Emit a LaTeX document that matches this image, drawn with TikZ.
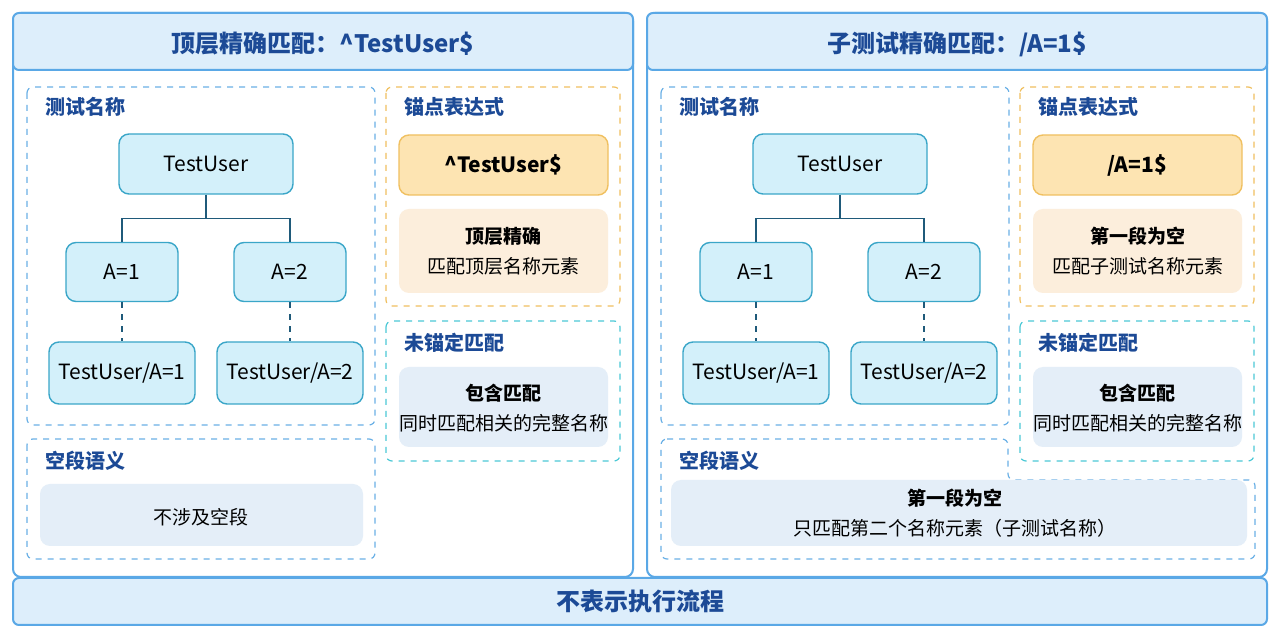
\documentclass[tikz,border=0pt]{standalone}
\usepackage{fontspec}
\setmainfont{Noto Sans CJK SC}
\begin{document}
\begin{tikzpicture}[x=0.5pt,y=-0.5pt,
 panel/.style={draw=pb,line width=1pt,rounded corners=4pt,fill=white},
 hdr/.style={draw=pb,line width=1pt,rounded corners=3pt,fill=hf},
 title/.style={font=\bfseries\fontsize{12}{14}\selectfont,text=tc},
 lab/.style={font=\bfseries\fontsize{10}{12}\selectfont,text=tc,anchor=west},
 dbox/.style={draw=db,dashed,line width=0.6pt,rounded corners=3pt},
 tn/.style={draw=nb,fill=nf,line width=0.7pt,rounded corners=5pt,font=\fontsize{10.5}{12}\selectfont},
 ib/.style={fill=ifl,rounded corners=5pt},
 bt/.style={font=\bfseries\fontsize{9.5}{11}\selectfont},
 nt/.style={font=\fontsize{9.5}{11}\selectfont},
 ln/.style={draw=lc,line width=0.7pt}]
\definecolor{pb}{HTML}{5AA8E6}\definecolor{hf}{HTML}{DDEEFB}\definecolor{tc}{HTML}{1C4A96}
\definecolor{db}{HTML}{6AB0E6}\definecolor{nb}{HTML}{3AA6C8}\definecolor{nf}{HTML}{D3F0FA}
\definecolor{ifl}{HTML}{E4EEF8}\definecolor{ob}{HTML}{F0C060}\definecolor{of}{HTML}{FDE4B2}
\definecolor{ofl}{HTML}{FCEEDC}\definecolor{teal}{HTML}{4CC9D6}\definecolor{lc}{HTML}{1F5A7A}
\useasboundingbox (0,0) rectangle (1280,640);
\fill[white] (0,0) rectangle (1280,640);
% bottom bar
\draw[hdr] (13,578) rectangle (1267,625);
\node[title] (bot) at (640,601) {不表示执行流程};
\foreach \ox/\tt/\anc/\sa/\sb/\emp in {0/{顶层精确匹配：\^{}TestUser\$}/{\^{}TestUser\$}/顶层精确/匹配顶层名称元素/0, 634/{子测试精确匹配：/A=1\$}/{/A=1\$}/第一段为空/匹配子测试名称元素/1}{
\begin{scope}[xshift=\ox*0.5pt]
\draw[panel] (13,13) rectangle (633,577);
\draw[hdr] (13,13) rectangle (633,70);
\node[title] at (323,44) {\tt};
% test name box
\draw[dbox] (27,87) rectangle (375,425);
\node[lab] at (38,107) {测试名称};
\node[tn,minimum width=87pt,minimum height=30pt] (r) at (206,164) {TestUser};
\node[tn,minimum width=56pt,minimum height=29.5pt] (a1) at (122,272) {A=1};
\node[tn,minimum width=56pt,minimum height=29.5pt] (a2) at (290,272) {A=2};
\node[tn,minimum width=73pt,minimum height=31pt] (b1) at (122,373) {TestUser/A=1};
\node[tn,minimum width=73pt,minimum height=31pt] (b2) at (290,373) {TestUser/A=2};
\draw[ln] (r.south) -- ++(0,24) -| (a1.north);
\draw[ln] (r.south) ++(0,24) -| (a2.north);
\draw[ln,dashed] (a1) -- (b1);
\draw[ln,dashed] (a2) -- (b2);
% anchor box
\draw[dbox,draw=ob] (386,87) rectangle (620,306);
\node[lab] at (397,107) {锚点表达式};
\node[draw=ob,fill=of,line width=0.7pt,rounded corners=5pt,minimum width=104.5pt,minimum height=30pt,font=\bfseries\fontsize{10.5}{12}\selectfont] (an) at (503.5,165) {\anc};
\fill[ofl,rounded corners=5pt] (399,209) rectangle (608,293);
\node[bt] (as) at (503.5,236) {\sa};
\node[nt] (ad) at (503.5,266) {\sb};
% unanchored
\draw[dbox,draw=teal] (386,321) rectangle (620,461);
\node[lab] at (397,343) {未锚定匹配};
\fill[ifl,rounded corners=5pt] (399,367) rectangle (608,447);
\node[bt] (us) at (503.5,393) {包含匹配};
\node[nt] (ud) at (503.5,423) {同时匹配相关的完整名称};
\end{scope}}
% left empty segment
\draw[dbox] (27,439) rectangle (375,559);
\node[lab] (el) at (38,461) {空段语义};
\fill[ifl,rounded corners=5pt] (40,484) rectangle (363,546);
\node[nt] (et) at (201,517) {不涉及空段};
% right empty segment (L shape)
\draw[dbox] (661,439) -- (1008,439) -- (1008,480) -- (1255,480) -- (1255,559) -- (661,559) -- cycle;
\node[lab] (er) at (672,461) {空段语义};
\fill[ifl,rounded corners=5pt] (671,480) rectangle (1247,546);
\node[bt] (es) at (955,498) {第一段为空};
\node[nt] (ed) at (955,528) {只匹配第二个名称元素（子测试名称）};
\end{tikzpicture}
\end{document}
